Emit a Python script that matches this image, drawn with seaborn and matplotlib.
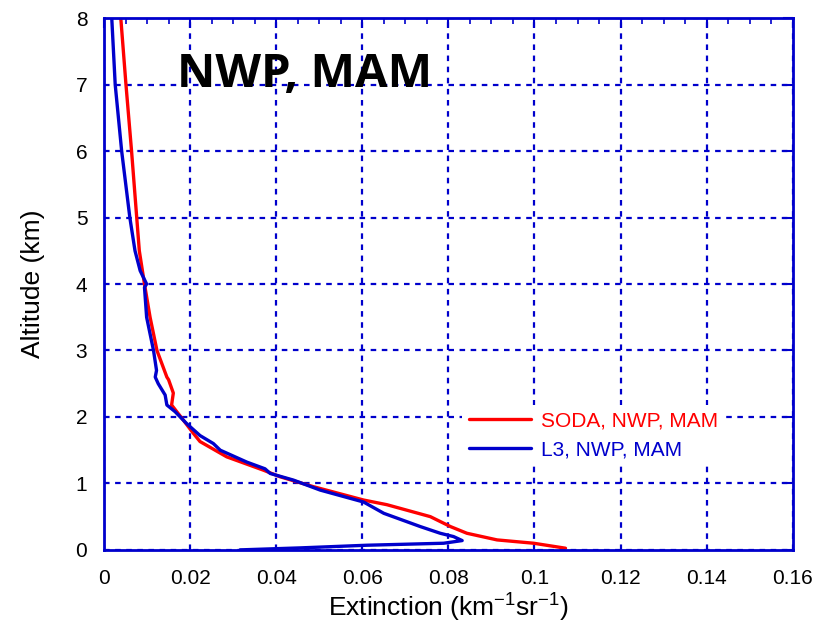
import matplotlib
matplotlib.use("Agg")
import matplotlib.pyplot as plt
import seaborn as sns
import pandas as pd
from matplotlib.ticker import MultipleLocator, FuncFormatter

# SODA profile (extinction km-1 sr-1 vs altitude km)
soda_alt = [8.0, 7.0, 6.0, 5.0, 4.5, 4.0, 3.5, 3.0, 2.6, 2.56, 2.36, 2.18, 1.98, 1.75, 1.63,
            1.40, 1.20, 1.10, 0.95, 0.75, 0.68, 0.50, 0.35, 0.25, 0.15, 0.10, 0.025]
soda_ext = [0.0039, 0.0051, 0.0064, 0.0076, 0.0082, 0.0094, 0.0107, 0.0123, 0.0146, 0.0150,
            0.0161, 0.0157, 0.0181, 0.0208, 0.0223, 0.0285, 0.0370, 0.0409, 0.0487, 0.0603,
            0.0657, 0.0758, 0.0805, 0.0843, 0.0913, 0.0998, 0.1072]

# L3 profile
l3_alt = [8.0, 7.0, 6.0, 5.0, 4.5, 4.2, 4.0, 3.95, 3.5, 3.0, 2.7, 2.6, 2.5, 2.33, 2.18, 2.08,
          1.90, 1.72, 1.60, 1.50, 1.32, 1.22, 1.15, 1.05, 0.90, 0.72, 0.55, 0.35, 0.25, 0.20,
          0.14, 0.10, 0.07, 0.03, 0.0]
l3_ext = [0.0018, 0.0026, 0.0041, 0.0060, 0.0072, 0.0084, 0.0099, 0.0094, 0.0099, 0.0115,
          0.0122, 0.0119, 0.0126, 0.0142, 0.0146, 0.0165, 0.0192, 0.0223, 0.0254, 0.0270,
          0.0332, 0.0374, 0.0386, 0.0440, 0.0502, 0.0603, 0.0650, 0.0735, 0.0781, 0.0812,
          0.0832, 0.0789, 0.0611, 0.0456, 0.0316]

x_ticks = [0, 0.02, 0.04, 0.06, 0.08, 0.1, 0.12, 0.14, 0.16]
y_ticks = [0, 1, 2, 3, 4, 5, 6, 7, 8]

blue = "#0000cc"

sns.set_style("white")
plt.rcParams["font.family"] = ["Liberation Sans", "DejaVu Sans"]
plt.rcParams["text.color"] = "black"
plt.rcParams["axes.labelcolor"] = "black"
plt.rcParams["mathtext.fontset"] = "custom"
plt.rcParams["mathtext.rm"] = "Liberation Sans"

fig = plt.figure(figsize=(8.19, 6.27), dpi=100)
ax = fig.add_axes([0.127, 0.123, 0.841, 0.848])

soda = pd.DataFrame({"ext": soda_ext, "alt": soda_alt})
l3 = pd.DataFrame({"ext": l3_ext, "alt": l3_alt})
sns.lineplot(data=soda, x="ext", y="alt", sort=False, estimator=None, color="#ff0000",
             lw=2.4, label="SODA, NWP, MAM", ax=ax)
sns.lineplot(data=l3, x="ext", y="alt", sort=False, estimator=None, color=blue,
             lw=2.4, label="L3, NWP, MAM", ax=ax)

ax.set_xlim(0, 0.16)
ax.set_ylim(0, 8)
ax.set_xticks(x_ticks)
ax.set_yticks(y_ticks)
ax.xaxis.set_minor_locator(MultipleLocator(0.005))
ax.xaxis.set_major_formatter(FuncFormatter(lambda v, p: f"{v:g}"))
ax.grid(True, which="major", color=blue, ls=(0, (2.5, 2.5)), lw=1.6)
for s in ax.spines.values():
    s.set_color(blue)
    s.set_linewidth(2)
    s.set_visible(True)
ax.tick_params(which="both", direction="in", color=blue, labelcolor="black",
               top=True, right=True, labelsize=15)
ax.tick_params(axis="x", pad=14)
ax.tick_params(axis="y", pad=12)
ax.tick_params(which="major", length=7, width=1.5)
ax.tick_params(which="minor", length=4, width=1.2)

ax.set_xlabel("Extinction (km$^{\\mathregular{-1}}$sr$^{\\mathregular{-1}}$)", fontsize=19, labelpad=1)
ax.set_ylabel("Altitude (km)", fontsize=19, labelpad=22)

ax.text(0.0465, 7.15, "NWP, MAM", fontsize=34, fontweight="bold", family="Open Sans",
        color="black", ha="center", va="center")

leg = ax.legend(loc="upper left", bbox_to_anchor=(0.505, 0.292), frameon=True,
                facecolor="white", edgecolor="none", framealpha=1, fancybox=False,
                fontsize=15, labelcolor="linecolor", handlelength=3.0,
                handletextpad=0.5, labelspacing=0.5, borderpad=0.3)

fig.savefig("out.png", dpi=100)
